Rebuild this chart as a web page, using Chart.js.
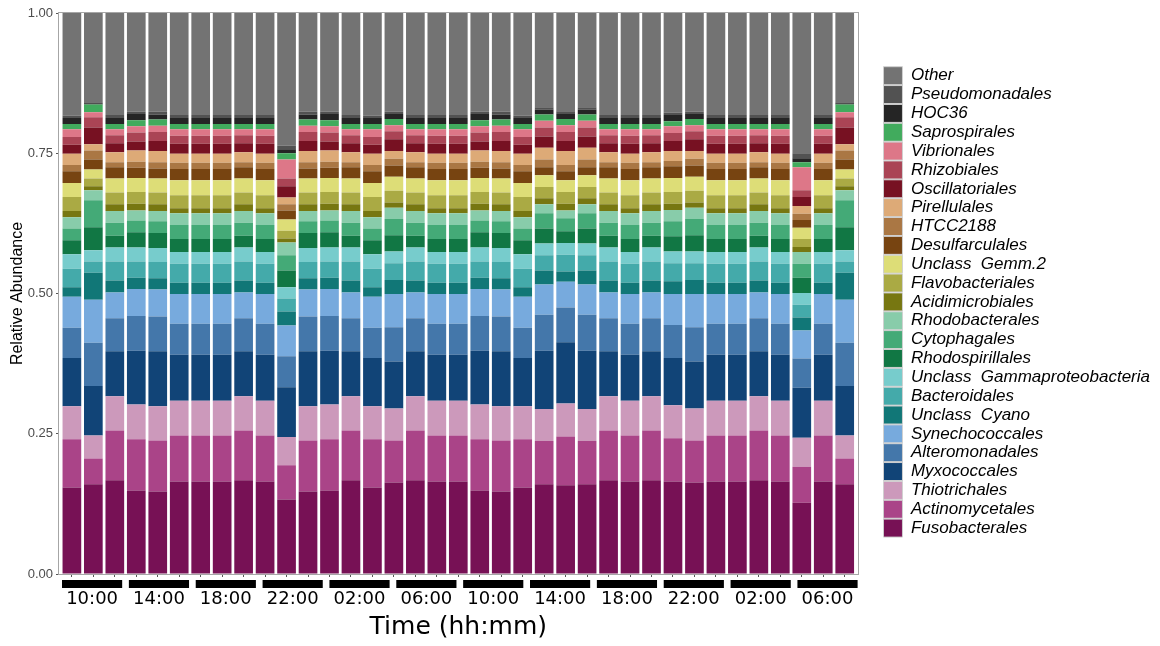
<!DOCTYPE html>
<html>
<head>
<meta charset="utf-8">
<script src="https://cdn.jsdelivr.net/npm/chart.js@4.4.1/dist/chart.umd.min.js"></script>
<style>
  html, body { margin: 0; padding: 0; background: #fff; }
  #wrap { width: 1160px; height: 646px; }
</style>
</head>
<body>
<div id="wrap"><canvas id="chart" width="1160" height="646"></canvas></div>
<script>
// sample positions along the time series (one bar each)
const samples = [1, 2, 3, 4, 5, 6, 7, 8, 9, 10, 11, 12, 13, 14, 15, 16, 17, 18, 19, 20, 21, 22, 23, 24, 25, 26, 27, 28, 29, 30, 31, 32, 33, 34, 35, 36, 37];
const timeLabels = ['10:00', '14:00', '18:00', '22:00', '02:00', '06:00', '10:00', '14:00', '18:00', '22:00', '02:00', '06:00'];

// relative abundance per order, bottom of the stack first
const fusobacterales   = [.154,.160,.167,.149,.147,.165,.165,.165,.167,.165,.133,.147,.149,.167,.154,.163,.167,.165,.165,.149,.147,.154,.160,.158,.160,.167,.165,.167,.165,.163,.165,.165,.167,.165,.127,.165,.160];
const actinomycetales  = [.086,.046,.089,.091,.091,.082,.082,.082,.089,.082,.061,.091,.091,.089,.086,.075,.089,.082,.082,.091,.091,.086,.077,.087,.077,.089,.082,.089,.077,.075,.082,.082,.089,.082,.064,.082,.046];
const thiotrichales    = [.059,.041,.061,.062,.061,.062,.062,.062,.061,.062,.050,.061,.062,.061,.059,.057,.061,.062,.062,.062,.061,.059,.057,.059,.057,.061,.062,.061,.059,.057,.062,.062,.061,.062,.052,.062,.041];
const myxococcales     = [.086,.088,.080,.096,.098,.082,.082,.082,.080,.082,.089,.098,.096,.080,.086,.084,.080,.082,.082,.096,.098,.086,.104,.109,.104,.080,.082,.080,.084,.084,.082,.082,.080,.082,.089,.082,.088];
const alteromonadales  = [.054,.077,.059,.062,.062,.055,.055,.055,.059,.055,.055,.062,.062,.059,.054,.061,.059,.055,.055,.062,.062,.054,.064,.062,.064,.059,.055,.059,.059,.061,.055,.055,.059,.055,.052,.055,.077];
const synechococcales  = [.055,.077,.046,.048,.048,.053,.053,.053,.046,.053,.055,.048,.048,.046,.055,.059,.046,.053,.053,.048,.048,.055,.054,.046,.054,.046,.053,.046,.055,.059,.053,.053,.046,.053,.050,.053,.077];
const unclassCyano     = [.017,.048,.021,.020,.020,.020,.020,.020,.021,.020,.025,.020,.020,.021,.017,.025,.021,.020,.020,.020,.020,.017,.025,.018,.025,.021,.020,.021,.023,.025,.020,.020,.021,.020,.023,.020,.048];
const bacteroidales    = [.033,.020,.034,.029,.029,.034,.034,.034,.034,.034,.023,.029,.029,.034,.033,.030,.034,.034,.034,.029,.029,.033,.027,.030,.027,.034,.034,.034,.032,.030,.034,.034,.034,.034,.023,.034,.020];
const unclassGamma     = [.026,.020,.025,.025,.025,.021,.021,.021,.025,.021,.020,.025,.025,.025,.026,.021,.025,.021,.021,.025,.025,.026,.021,.021,.021,.025,.021,.025,.021,.021,.021,.021,.025,.021,.021,.021,.020];
const rhodospirillales = [.025,.041,.021,.027,.027,.023,.023,.023,.021,.023,.030,.027,.027,.021,.025,.029,.021,.023,.023,.027,.027,.025,.027,.021,.027,.021,.023,.021,.027,.029,.023,.023,.021,.023,.027,.023,.041];
const cytophagales     = [.021,.048,.023,.021,.021,.025,.025,.025,.023,.025,.027,.021,.021,.023,.021,.029,.023,.025,.025,.021,.021,.021,.027,.023,.027,.023,.025,.023,.027,.029,.025,.025,.023,.025,.025,.025,.048];
const rhodobacterales  = [.020,.018,.021,.018,.018,.021,.021,.021,.021,.021,.023,.018,.018,.021,.020,.020,.021,.021,.021,.018,.018,.020,.016,.014,.016,.021,.021,.021,.020,.020,.021,.021,.021,.021,.021,.021,.018];
const acidimicrobiales = [.011,.007,.012,.012,.012,.009,.009,.009,.012,.009,.007,.012,.012,.012,.011,.009,.012,.009,.009,.012,.012,.011,.011,.012,.011,.012,.009,.012,.011,.009,.009,.009,.012,.009,.009,.009,.007];
const flavobacteriales = [.025,.014,.021,.021,.021,.023,.023,.023,.021,.023,.014,.021,.021,.021,.025,.021,.021,.023,.023,.021,.021,.025,.020,.021,.020,.021,.023,.021,.021,.021,.023,.023,.021,.023,.014,.023,.014];
const unclassGemm2     = [.025,.016,.025,.025,.025,.027,.027,.027,.025,.027,.020,.025,.025,.025,.025,.025,.025,.027,.027,.025,.025,.025,.021,.021,.021,.025,.027,.025,.025,.025,.027,.027,.025,.027,.020,.027,.016];
const desulfarculales  = [.021,.018,.020,.018,.018,.020,.020,.020,.020,.020,.016,.018,.018,.020,.021,.020,.020,.020,.020,.018,.018,.021,.014,.016,.014,.020,.020,.020,.021,.020,.020,.020,.020,.020,.014,.020,.018];
const htcc2188         = [.011,.016,.009,.011,.011,.011,.011,.011,.009,.011,.011,.011,.011,.009,.011,.012,.009,.011,.011,.011,.011,.011,.014,.011,.014,.009,.011,.009,.009,.012,.011,.011,.009,.011,.011,.011,.016];
const pirellulales     = [.020,.011,.018,.020,.020,.016,.016,.016,.018,.016,.012,.020,.020,.018,.020,.014,.018,.016,.016,.020,.020,.020,.021,.025,.021,.018,.016,.018,.018,.014,.016,.016,.018,.016,.014,.016,.011];
const oscillatoriales  = [.016,.030,.016,.016,.018,.018,.018,.018,.016,.018,.020,.018,.016,.016,.016,.021,.016,.018,.018,.016,.018,.016,.020,.018,.020,.016,.018,.016,.018,.021,.018,.018,.016,.018,.016,.018,.030];
const rhizobiales      = [.014,.018,.014,.016,.016,.014,.014,.014,.014,.014,.014,.016,.016,.014,.014,.014,.014,.014,.014,.016,.016,.014,.016,.016,.016,.014,.014,.014,.014,.014,.014,.014,.014,.014,.012,.014,.018];
const vibrionales      = [.014,.009,.011,.011,.011,.012,.012,.012,.011,.012,.034,.011,.011,.011,.014,.011,.011,.012,.012,.011,.011,.014,.012,.012,.012,.011,.012,.011,.012,.011,.012,.012,.011,.012,.041,.012,.009];
const saprospirales    = [.009,.014,.009,.011,.011,.009,.009,.009,.009,.009,.011,.011,.011,.009,.009,.011,.009,.009,.009,.011,.011,.009,.011,.011,.011,.009,.009,.009,.009,.011,.009,.009,.009,.009,.009,.009,.014];
const hoc36            = [.011,.002,.011,.011,.009,.011,.011,.011,.011,.011,.007,.009,.011,.011,.011,.009,.011,.011,.011,.011,.009,.011,.009,.009,.009,.011,.011,.011,.011,.009,.011,.011,.011,.011,.007,.011,.002];
const pseudomonadales  = [.004,.002,.005,.004,.005,.005,.005,.005,.005,.005,.007,.005,.004,.005,.004,.004,.005,.005,.005,.004,.005,.004,.004,.005,.004,.005,.005,.005,.004,.004,.005,.005,.005,.005,.009,.005,.002];
const other            = [.185,.161,.184,.178,.178,.184,.184,.184,.184,.184,.238,.178,.178,.184,.185,.178,.184,.184,.184,.178,.178,.185,.170,.177,.170,.184,.184,.184,.180,.178,.184,.184,.184,.184,.252,.184,.161];

const orderNames = ['Fusobacterales', 'Actinomycetales', 'Thiotrichales', 'Myxococcales', 'Alteromonadales',
  'Synechococcales', 'Unclass  Cyano', 'Bacteroidales', 'Unclass  Gammaproteobacteria', 'Rhodospirillales',
  'Cytophagales', 'Rhodobacterales', 'Acidimicrobiales', 'Flavobacteriales', 'Unclass  Gemm.2',
  'Desulfarculales', 'HTCC2188', 'Pirellulales', 'Oscillatoriales', 'Rhizobiales',
  'Vibrionales', 'Saprospirales', 'HOC36', 'Pseudomonadales', 'Other'];
const orderValues = [fusobacterales, actinomycetales, thiotrichales, myxococcales, alteromonadales,
  synechococcales, unclassCyano, bacteroidales, unclassGamma, rhodospirillales,
  cytophagales, rhodobacterales, acidimicrobiales, flavobacteriales, unclassGemm2,
  desulfarculales, htcc2188, pirellulales, oscillatoriales, rhizobiales,
  vibrionales, saprospirales, hoc36, pseudomonadales, other];
const orderColors = ['#771155', '#aa4488', '#cc99bb', '#114477', '#4477aa',
  '#77aadd', '#117777', '#44aaaa', '#77cccc', '#117744',
  '#44aa77', '#88ccaa', '#777711', '#aaaa44', '#dddd77',
  '#774411', '#aa7744', '#ddaa77', '#771122', '#aa4455',
  '#dd7788', '#41ab5d', '#252525', '#525252', '#737373'];

Chart.defaults.font.family = 'Liberation Sans';

// grey panel border round the plot
const framePlugin = {
  id: 'frame',
  afterDatasetsDraw(chart) {
    const { ctx, chartArea: a } = chart;
    ctx.save();
    ctx.strokeStyle = '#a6a6a6';
    ctx.lineWidth = 1;
    ctx.strokeRect(Math.round(a.left) - 0.5, Math.round(a.top) - 0.5,
      Math.round(a.right - a.left) + 1, Math.round(a.bottom - a.top) + 1);
    ctx.restore();
  }
};

// black bars above the time labels
const timeBarPlugin = {
  id: 'timeBars',
  afterDraw(chart) {
    const xt = chart.scales.xt;
    const ctx = chart.ctx;
    ctx.save();
    ctx.fillStyle = '#000';
    timeLabels.forEach((t, k) => {
      const x0 = xt.getPixelForValue(k);
      const x1 = xt.getPixelForValue(k + 0.9);
      ctx.fillRect(x0, xt.top + 3, x1 - x0, 8);
    });
    ctx.restore();
  }
};

const datasets = orderNames.map((name, i) => ({
  label: name,
  data: orderValues[i],
  backgroundColor: orderColors[i],
  borderWidth: 0,
  barPercentage: 0.87,
  categoryPercentage: 1
}));

new Chart(document.getElementById('chart'), {
  type: 'bar',
  data: { labels: samples, datasets },
  plugins: [framePlugin, timeBarPlugin],
  options: {
    responsive: false,
    animation: false,
    layout: { padding: { top: 13, right: 0, bottom: 0, left: 0 } },
    plugins: {
      tooltip: { enabled: false },
      legend: {
        position: 'right',
        align: 'center',
        fullSize: false,
        reverse: true,
        maxWidth: 300,
        title: { display: true, text: ' ', font: { size: 14 }, padding: 0 },
        labels: {
          boxWidth: 19,
          boxHeight: 18,
          padding: 0.85,
          color: '#000',
          font: { size: 17, style: 'italic' },
          generateLabels(chart) {
            return Chart.defaults.plugins.legend.labels.generateLabels(chart).map(item => {
              item.strokeStyle = '#d0d0d0';
              item.lineWidth = 1;
              return item;
            });
          }
        }
      }
    },
    scales: {
      x: {
        type: 'linear',
        position: 'bottom',
        stacked: true,
        offset: false,
        min: 0.4,
        max: 37.6,
        weight: 0,
        afterBuildTicks: a => { a.ticks = samples.map(v => ({ value: v })); },
        ticks: { display: false, autoSkip: false },
        grid: { display: true, offset: false, drawOnChartArea: false, drawTicks: true, tickLength: 3, color: '#555' },
        border: { display: false },
        afterFit: a => { a.height = 3; }
      },
      xt: {
        type: 'linear',
        position: 'bottom',
        weight: 1,
        offset: false,
        min: -0.045,
        max: 11.9,
        afterBuildTicks: a => { a.ticks = timeLabels.map((t, k) => ({ value: k + 0.45 })); },
        ticks: {
          autoSkip: false,
          maxRotation: 0,
          padding: 11.2,
          color: '#000',
          font: { family: 'DejaVu Sans', size: 18 },
          callback: (v, i) => timeLabels[i]
        },
        grid: { display: false, offset: false, drawTicks: false, tickLength: 0 },
        border: { display: false },
        title: {
          display: true,
          text: 'Time (hh:mm)',
          color: '#000',
          font: { family: 'DejaVu Sans', size: 25 },
          padding: { top: 0, bottom: 3.5 }
        },
        afterFit: a => { a.height = 69; }
      },
      y: {
        stacked: true,
        min: 0,
        max: 1,
        position: 'left',
        ticks: { stepSize: 0.25, padding: 3, color: '#4d4d4d', font: { size: 13 }, callback: v => v.toFixed(2) },
        grid: { drawOnChartArea: false, tickLength: 3, color: '#555' },
        border: { display: false },
        title: { display: true, text: 'Relative Abundance', color: '#000', font: { size: 16 }, padding: { top: 8.4, bottom: 0 } },
        afterFit: a => { a.width = 59; }
      },
      yr: {
        position: 'right',
        display: true,
        grid: { display: false, drawTicks: false },
        ticks: { display: false },
        border: { display: false },
        afterFit: a => { a.width = 25; }
      }
    }
  }
});
</script>
</body>
</html>
